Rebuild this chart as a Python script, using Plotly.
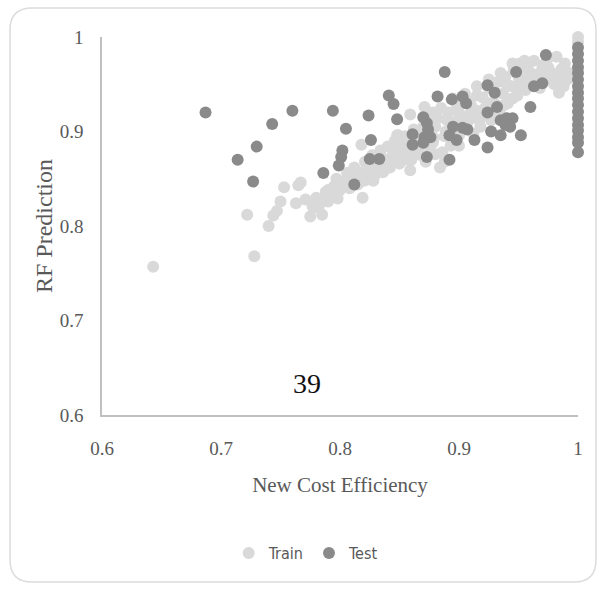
import plotly.graph_objects as go

# Random-forest predictions vs. new cost efficiency (train / test split)
train_x = [0.643, 0.728, 0.722, 0.740, 0.744, 0.747, 0.750, 0.753, 0.763, 0.765, 0.767,
           0.771, 0.775, 0.777, 0.780, 0.782, 0.785, 0.788, 0.790, 0.792, 0.795, 0.797,
           0.798, 0.800, 0.803, 0.806, 0.808, 0.810, 0.812, 0.815, 0.817, 0.819, 0.821,
           0.822, 0.825, 0.827, 0.829, 0.832, 0.834, 0.836, 0.838, 0.840, 0.842, 0.844,
           0.846, 0.849, 0.850, 0.852, 0.855, 0.857, 0.859, 0.859, 0.861, 0.864, 0.866,
           0.868, 0.871, 0.872, 0.875, 0.877, 0.879, 0.882, 0.884, 0.886, 0.888, 0.889,
           0.891, 0.893, 0.896, 0.898, 0.900, 0.903, 0.905, 0.908, 0.910, 0.912, 0.915,
           0.917, 0.920, 0.922, 0.925, 0.927, 0.930, 0.932, 0.934, 0.937, 0.939, 0.941,
           0.944, 0.946, 0.949, 0.951, 0.953, 0.956, 0.958, 0.961, 0.963, 0.966, 0.968,
           0.970, 0.973, 0.975, 0.977, 0.980, 0.982, 0.984, 0.986, 0.989, 0.991, 0.993,
           1.000, 1.000, 0.818, 0.848,
           0.870, 0.880, 0.890, 0.900, 0.910, 0.920, 0.930, 0.940, 0.950, 0.960, 0.900,
           0.880, 0.860, 0.850, 0.840, 0.830, 0.820, 0.810, 0.800, 0.790, 0.785, 0.860,
           0.870, 0.945, 0.955, 0.965, 0.975, 0.985, 0.925, 0.915,
           0.805, 0.815, 0.825, 0.835, 0.845, 0.855, 0.862, 0.872, 0.878, 0.885, 0.895,
           0.905, 0.915, 0.925, 0.935, 0.945, 0.955, 0.828, 0.838, 0.848, 0.858, 0.868,
           0.878, 0.888, 0.898, 0.908, 0.918, 0.928, 0.938, 0.948, 0.958, 0.968, 0.978,
           0.988]
train_y = [0.757, 0.768, 0.812, 0.800, 0.811, 0.816, 0.826, 0.841, 0.824, 0.843, 0.846,
           0.828, 0.810, 0.821, 0.830, 0.819, 0.812, 0.836, 0.826, 0.833, 0.842, 0.850,
           0.829, 0.838, 0.846, 0.856, 0.840, 0.851, 0.862, 0.844, 0.857, 0.830, 0.868,
           0.849, 0.860, 0.875, 0.853, 0.866, 0.880, 0.857, 0.870, 0.884, 0.862, 0.874,
           0.890, 0.896, 0.866, 0.879, 0.887, 0.870, 0.918, 0.859, 0.878, 0.894, 0.882,
           0.901, 0.926, 0.868, 0.884, 0.906, 0.893, 0.914, 0.862, 0.878, 0.868, 0.900,
           0.920, 0.885, 0.910, 0.928, 0.896, 0.915, 0.903, 0.932, 0.920, 0.898, 0.938,
           0.912, 0.936, 0.925, 0.946, 0.912, 0.930, 0.952, 0.920, 0.940, 0.958, 0.930,
           0.948, 0.965, 0.938, 0.972, 0.955, 0.944, 0.966, 0.950, 0.975, 0.960, 0.946,
           0.970, 0.955, 0.978, 0.963, 0.950, 0.979, 0.941, 0.966, 0.972, 0.955, 0.962,
           1.000, 0.995, 0.886, 0.896,
           0.890, 0.905, 0.912, 0.920, 0.928, 0.918, 0.942, 0.950, 0.958, 0.962, 0.885,
           0.876, 0.870, 0.880, 0.866, 0.858, 0.848, 0.842, 0.845, 0.838, 0.826, 0.885,
           0.905, 0.935, 0.968, 0.950, 0.968, 0.958, 0.930, 0.922,
           0.848, 0.852, 0.868, 0.872, 0.882, 0.895, 0.902, 0.912, 0.920, 0.925, 0.935,
           0.940, 0.948, 0.955, 0.962, 0.972, 0.975, 0.848, 0.860, 0.872, 0.880, 0.875,
           0.888, 0.895, 0.902, 0.912, 0.905, 0.920, 0.928, 0.948, 0.955, 0.962, 0.958,
           0.948]

test_x = [0.687, 0.760, 0.743, 0.730, 0.714, 0.727,
          0.794, 0.824, 0.841, 0.845, 0.848, 0.805, 0.826, 0.802, 0.801, 0.799, 0.825,
          0.833, 0.786, 0.812,
          0.861, 0.861, 0.870, 0.873, 0.870, 0.888, 0.882, 0.894, 0.903, 0.906,
          0.873, 0.874, 0.876, 0.871, 0.892, 0.895, 0.892, 0.898, 0.903, 0.907, 0.913,
          0.924, 0.924, 0.930, 0.924, 0.932, 0.927, 0.935, 0.935, 0.940, 0.945, 0.939,
          0.943, 0.952, 0.948, 0.960, 0.963, 0.970, 0.973,
          1.000, 1.000, 1.000, 1.000, 1.000, 1.000, 1.000, 1.000, 1.000, 1.000, 1.000,
          1.000, 1.000, 1.000, 1.000, 1.000, 1.000]
test_y = [0.920, 0.922, 0.908, 0.884, 0.870, 0.847,
          0.922, 0.917, 0.938, 0.929, 0.913, 0.903, 0.891, 0.880, 0.873, 0.864, 0.871,
          0.871, 0.856, 0.844,
          0.897, 0.886, 0.888, 0.873, 0.915, 0.963, 0.937, 0.934, 0.937, 0.930,
          0.909, 0.902, 0.894, 0.894, 0.870, 0.905, 0.896, 0.891, 0.904, 0.902, 0.891,
          0.883, 0.949, 0.941, 0.920, 0.926, 0.900, 0.896, 0.912, 0.914, 0.914, 0.907,
          0.905, 0.896, 0.963, 0.926, 0.948, 0.951, 0.981,
          0.989, 0.982, 0.975, 0.968, 0.962, 0.955, 0.948, 0.941, 0.935, 0.928, 0.921,
          0.914, 0.907, 0.901, 0.894, 0.888, 0.878]

x_ticks = [0.6, 0.7, 0.8, 0.9, 1.0]
x_tick_text = ["0.6", "0.7", "0.8", "0.9", "1"]
y_ticks = [0.6, 0.7, 0.8, 0.9, 1.0]
y_tick_text = ["0.6", "0.7", "0.8", "0.9", "1"]

W, H = 598, 589
ML, MR, MT, MB = 102, 20, 37, 174

TRAIN_COLOR = "#d9d9d9"
TEST_COLOR = "#8a8a8a"
TEXT_COLOR = "#595959"
SERIF = "Liberation Serif, Times New Roman, serif"
NARROW = "DejaVu Sans Condensed, Liberation Sans Narrow, Roboto Condensed, Roboto, sans-serif"

fig = go.Figure()
fig.add_trace(go.Scatter(
    x=train_x, y=train_y, mode="markers", name="Train",
    marker=dict(color=TRAIN_COLOR, size=12, line=dict(width=0)),
    cliponaxis=False,
))
fig.add_trace(go.Scatter(
    x=test_x, y=test_y, mode="markers", name="Test",
    marker=dict(color=TEST_COLOR, size=12, line=dict(width=0)),
    cliponaxis=False,
))

# rounded card frame behind the chart, expressed in plot-area fractions
pw, ph = W - ML - MR, H - MT - MB


def fx(px):
    return (px - ML) / pw


def fy(py):
    return (H - MB - py) / ph


left, right, top, bottom, r = 10, 596, 8, 582, 22
frame = (
    f"M {fx(left + r)},{fy(top)} L {fx(right - r)},{fy(top)} "
    f"Q {fx(right)},{fy(top)} {fx(right)},{fy(top + r)} "
    f"L {fx(right)},{fy(bottom - r)} "
    f"Q {fx(right)},{fy(bottom)} {fx(right - r)},{fy(bottom)} "
    f"L {fx(left + r)},{fy(bottom)} "
    f"Q {fx(left)},{fy(bottom)} {fx(left)},{fy(bottom - r)} "
    f"L {fx(left)},{fy(top + r)} "
    f"Q {fx(left)},{fy(top)} {fx(left + r)},{fy(top)} Z"
)
fig.add_shape(type="path", path=frame, xref="paper", yref="paper",
              line=dict(color="#dcdcdc", width=1.5), layer="below")

fig.add_annotation(text="39", x=0.7725, y=0.633, xref="x", yref="y",
                   showarrow=False, xanchor="center", yanchor="middle",
                   font=dict(family=SERIF, size=28, color="#111111"))

axis_common = dict(
    showgrid=False, zeroline=False, showline=True, linecolor="#c0c0c0", linewidth=1.5,
    ticks="", tickfont=dict(family=SERIF, size=19, color=TEXT_COLOR),
    range=[0.6, 1.0], fixedrange=True,
)

fig.update_layout(
    width=W, height=H,
    margin=dict(l=ML, r=MR, t=MT, b=MB),
    paper_bgcolor="white", plot_bgcolor="white",
    showlegend=True,
    legend=dict(orientation="h", xref="container", yref="container",
                x=0.512, y=0.061, xanchor="center", yanchor="middle",
                font=dict(family=NARROW, size=16, color=TEXT_COLOR),
                itemwidth=30, tracegroupgap=0),
    xaxis=dict(axis_common, tickvals=x_ticks, ticktext=x_tick_text, ticklabelstandoff=15,
               title=dict(text="New Cost Efficiency", standoff=20,
                          font=dict(family=SERIF, size=21, color=TEXT_COLOR))),
    yaxis=dict(axis_common, tickvals=y_ticks, ticktext=y_tick_text, ticklabelstandoff=13,
               title=dict(text="RF Prediction", standoff=0,
                          font=dict(family=SERIF, size=24, color=TEXT_COLOR))),
)

fig.write_html("out.html")
